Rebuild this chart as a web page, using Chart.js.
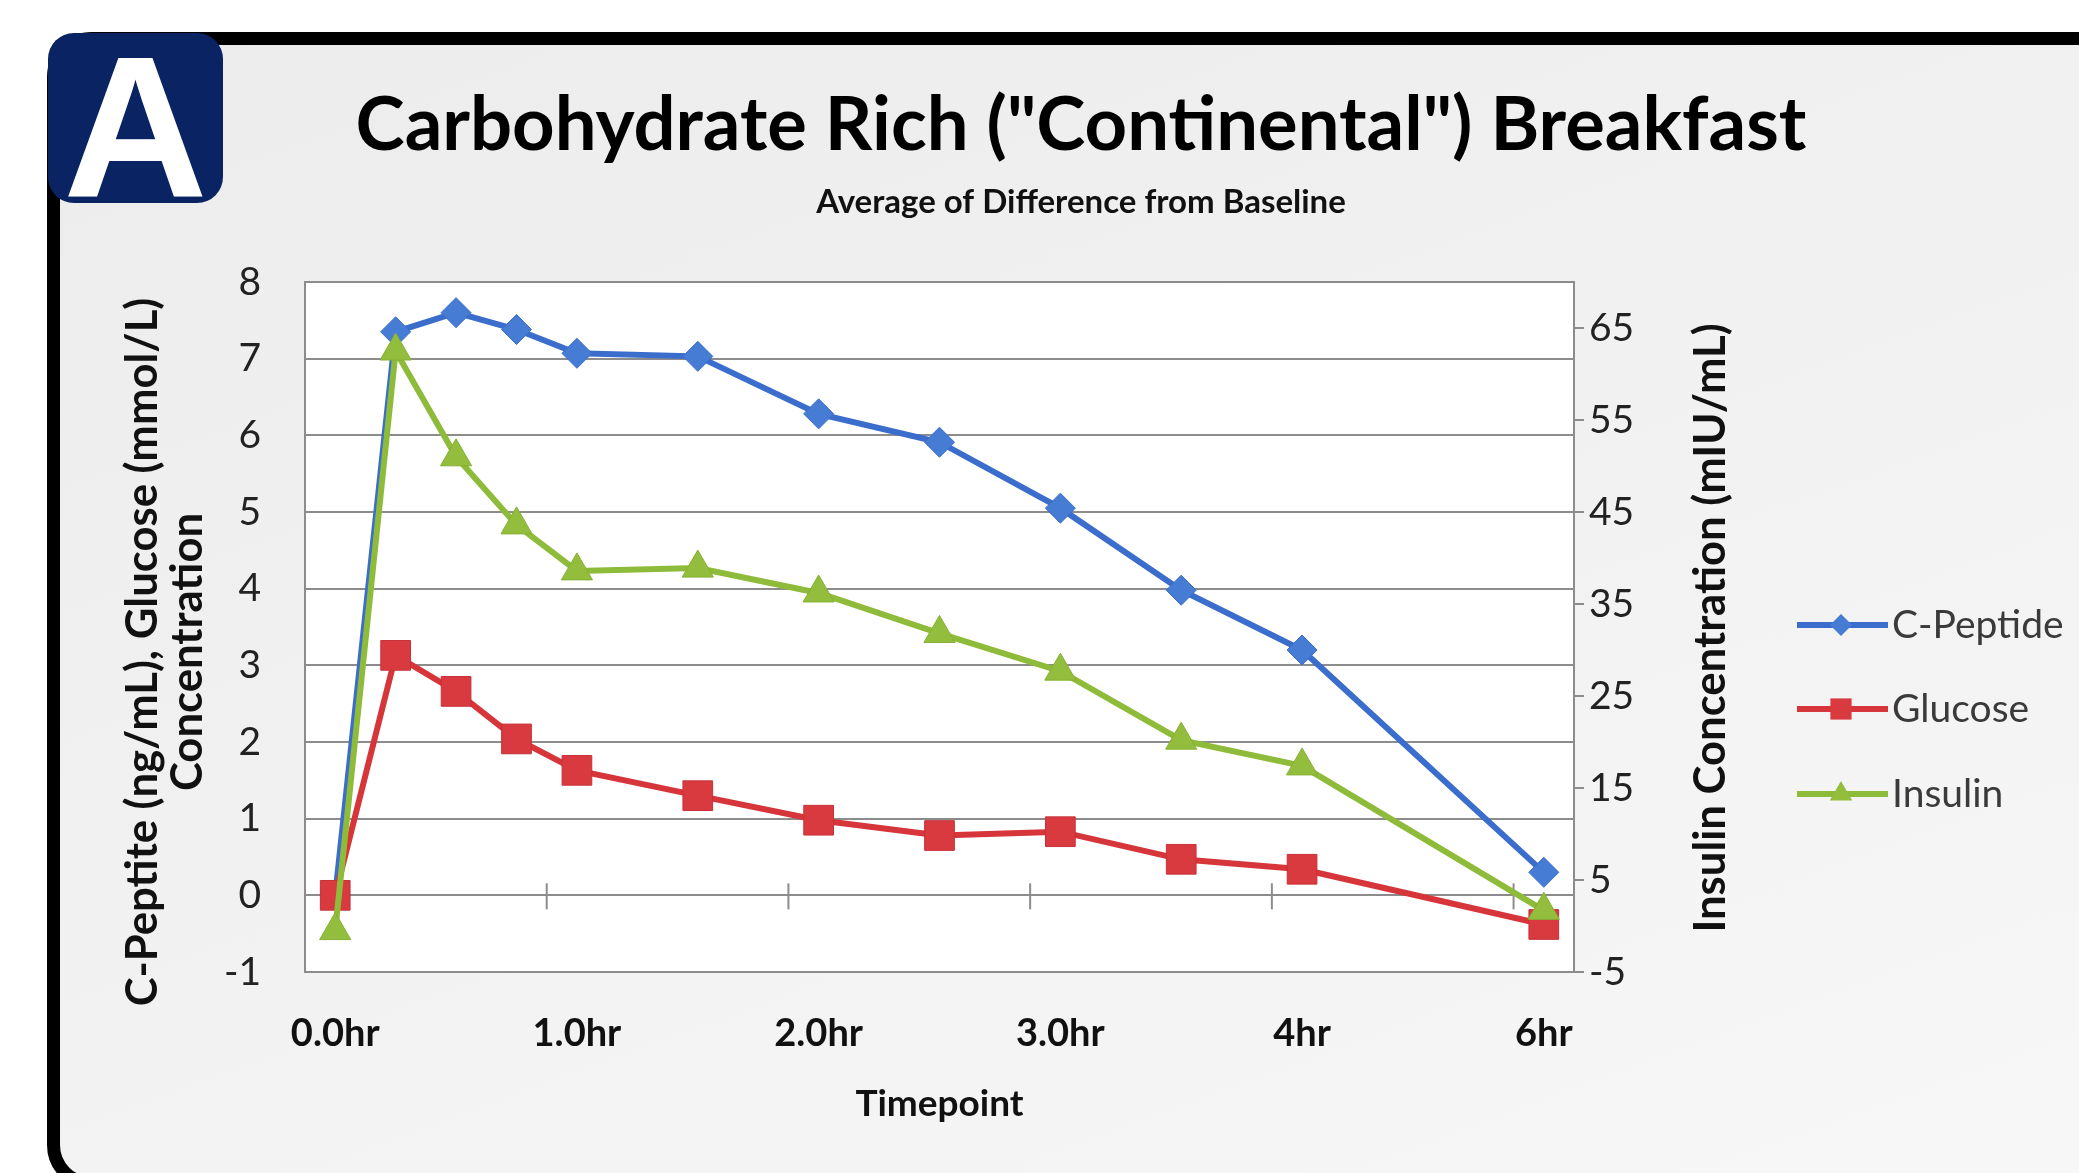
<!DOCTYPE html>
<html>
<head>
<meta charset="utf-8">
<script src="https://cdn.jsdelivr.net/npm/chart.js@4.4.1/dist/chart.umd.min.js"></script>
<style>
  html, body { margin: 0; padding: 0; background: #fff; overflow: hidden; }
  body { width: 2079px; height: 1173px; position: relative; }
  #frame {
    position: absolute; left: 47px; top: 32px; width: 2080px; height: 1158px;
    box-sizing: border-box; border: 13px solid #000; border-radius: 45px;
    background: linear-gradient(160deg, #ececec 0%, #f2f2f2 55%, #f7f7f7 100%);
  }
  #badge {
    position: absolute; left: 48px; top: 33px; width: 175px; height: 170px;
    background: #0a2463; border-radius: 26px; overflow: hidden;
  }
  #badge span {
    position: absolute; left: 0; width: 100%; top: -6px; text-align: center;
    font: bold 200px/1 "Liberation Sans", Arial, sans-serif; color: #fff;
  }
  #wrap { position: absolute; left: 100px; top: 0; width: 1979px; height: 1173px; }
</style>
</head>
<body>
<div id="frame"></div>
<div id="badge"><span>A</span></div>
<div id="wrap"><canvas id="chart"></canvas></div>

<script>
// ---------------- data ----------------
// sampling times (hours); the 6hr sample sits one slot after 4hr, as in the original sheet
const timeSlots = [0, 0.25, 0.5, 0.75, 1, 1.5, 2, 2.5, 3, 3.5, 4, 5];
const labelSlots = [0, 1, 2, 3, 4, 5];
const timeLabels = ["0.0hr", "1.0hr", "2.0hr", "3.0hr", "4hr", "6hr"];
const zeroTickSlots = [0.875, 1.875, 2.875, 3.875, 4.875];

const cPeptide = [0, 7.35, 7.6, 7.38, 7.07, 7.03, 6.28, 5.91, 5.05, 3.98, 3.2, 0.3];
const glucose = [0, 3.13, 2.66, 2.04, 1.63, 1.3, 0.98, 0.78, 0.83, 0.47, 0.34, -0.38];
const insulin = [-0.5, 62.5, 51.0, 43.6, 38.6, 38.9, 36.2, 31.8, 27.7, 20.2, 17.4, 1.7];

const leftTicks = [-1, 0, 1, 2, 3, 4, 5, 6, 7, 8];
const rightTicks = [-5, 5, 15, 25, 35, 45, 55, 65];

const titleText = 'Carbohydrate Rich ("Continental") Breakfast';
const subtitleText = "Average of Difference from Baseline";
const leftTitle = ["C-Peptite (ng/mL), Glucose (mmol/L)", "Concentration"];
const rightTitle = "Insulin Concentration (mIU/mL)";

// ---------------- helpers ----------------
const FONT = 'Lato, "Open Sans", sans-serif';
const GRID = "#8c8c8c";

function fitSize(text, weight, width) {
  const ctx = document.createElement("canvas").getContext("2d");
  ctx.font = weight + " 100px " + FONT;
  return (100 * width) / ctx.measureText(text).width;
}

const titleSize = fitSize(titleText, "bold", 1451);
const subSize = fitSize(subtitleText, "bold", 530);
const axisTitleSize = fitSize(leftTitle[0], "bold", 709);

function points(values) {
  return timeSlots.map((t, i) => ({ x: t, y: values[i] }));
}

function drawMarker(ctx, style, x, y, r) {
  ctx.beginPath();
  if (style === "rectRot") {
    ctx.moveTo(x - r, y);
    ctx.lineTo(x, y - r);
    ctx.lineTo(x + r, y);
    ctx.lineTo(x, y + r);
  } else if (style === "rect") {
    const s = r * Math.SQRT1_2;
    ctx.rect(x - s, y - s, 2 * s, 2 * s);
  } else {
    ctx.moveTo(x, y - r);
    ctx.lineTo(x + r * 0.866, y + r * 0.5);
    ctx.lineTo(x - r * 0.866, y + r * 0.5);
  }
  ctx.closePath();
  ctx.fill();
}

function rotatedText(ctx, lines, x, y, gap) {
  ctx.save();
  ctx.translate(x, y);
  ctx.rotate(-Math.PI / 2);
  ctx.fillStyle = "#111";
  ctx.font = "bold " + axisTitleSize + "px " + FONT;
  ctx.textAlign = "center";
  ctx.textBaseline = "middle";
  lines.forEach((t, i) => ctx.fillText(t, 0, i * gap));
  ctx.restore();
}

// white plot area
const plotBackground = {
  id: "plotBackground",
  beforeDraw(chart) {
    const { ctx, chartArea: a } = chart;
    ctx.save();
    ctx.fillStyle = "#ffffff";
    ctx.fillRect(a.left, a.top, a.right - a.left, a.bottom - a.top);
    ctx.restore();
  },
};

// little tick marks on the zero line, like the original horizontal axis
const zeroTicks = {
  id: "zeroTicks",
  beforeDatasetsDraw(chart) {
    const { ctx, scales } = chart;
    const y0 = scales.y.getPixelForValue(0);
    ctx.save();
    ctx.strokeStyle = GRID;
    ctx.lineWidth = 2;
    zeroTickSlots.forEach((v) => {
      const x = scales.x.getPixelForValue(v);
      ctx.beginPath();
      ctx.moveTo(x, y0 - 12);
      ctx.lineTo(x, y0 + 14);
      ctx.stroke();
    });
    ctx.restore();
  },
};

// axis titles, both reading bottom-to-top as in Excel
const axisTitles = {
  id: "axisTitles",
  afterDraw(chart) {
    const ctx = chart.ctx;
    rotatedText(ctx, leftTitle, 43, 652, 45);
    rotatedText(ctx, [rightTitle], 1611, 628, 0);
  },
};

// legend with line + marker, Excel style
const lineLegend = {
  id: "lineLegend",
  afterDraw(chart) {
    const ctx = chart.ctx;
    const rows = [625, 709, 794];
    const sizes = [11, 15, 13];
    ctx.save();
    chart.data.datasets.forEach((ds, i) => {
      const y = rows[i];
      ctx.strokeStyle = ds.borderColor;
      ctx.lineWidth = 6;
      ctx.beginPath();
      ctx.moveTo(1697, y);
      ctx.lineTo(1788, y);
      ctx.stroke();
      ctx.fillStyle = ds.pointBackgroundColor;
      drawMarker(ctx, ds.pointStyle, 1741, y, sizes[i]);
      ctx.fillStyle = "#3a3a3a";
      ctx.font = "39px " + FONT;
      ctx.textBaseline = "middle";
      ctx.fillText(ds.label, 1792, y);
    });
    ctx.restore();
  },
};

// ---------------- chart ----------------
new Chart(document.getElementById("chart"), {
  type: "line",
  data: {
    datasets: [
      {
        label: "C-Peptide",
        data: points(cPeptide),
        yAxisID: "y",
        borderColor: "#3b6dcc",
        borderWidth: 6,
        pointStyle: "rectRot",
        pointRadius: 15,
        pointBackgroundColor: "#477cd5",
        pointBorderColor: "#3b6dcc",
        pointBorderWidth: 1,
        order: 2,
      },
      {
        label: "Glucose",
        data: points(glucose),
        yAxisID: "y",
        borderColor: "#d6353a",
        borderWidth: 6,
        pointStyle: "rect",
        pointRadius: 21,
        pointBackgroundColor: "#d93a40",
        pointBorderColor: "#c83036",
        pointBorderWidth: 1,
        order: 1,
      },
      {
        label: "Insulin",
        data: points(insulin),
        yAxisID: "y2",
        borderColor: "#8fbb3a",
        borderWidth: 6,
        pointStyle: "triangle",
        pointRadius: 18,
        pointBackgroundColor: "#93bd3c",
        pointBorderColor: "#86b034",
        pointBorderWidth: 1,
        order: 0,
      },
    ],
  },
  options: {
    responsive: true,
    maintainAspectRatio: false,
    animation: false,
    clip: false,
    layout: { padding: { left: 0, right: 17, top: 0, bottom: 46.5 } },
    elements: { line: { tension: 0 } },
    plugins: {
      legend: { display: false },
      tooltip: { enabled: false },
      title: {
        display: true,
        text: titleText,
        color: "#000",
        font: { family: FONT, weight: "bold", size: titleSize, lineHeight: 1 },
        padding: { top: 126 - titleSize / 2, bottom: 0 },
      },
      subtitle: {
        display: true,
        text: subtitleText,
        color: "#111",
        font: { family: FONT, weight: "bold", size: subSize, lineHeight: 1 },
        padding: {
          top: 202 - subSize / 2 - (126 + titleSize / 2),
          bottom: 282 - (202 + subSize / 2),
        },
      },
    },
    scales: {
      x: {
        type: "linear",
        min: -0.125,
        max: 5.125,
        afterBuildTicks: (s) => {
          s.ticks = labelSlots.map((v) => ({ value: v }));
        },
        afterFit: (s) => {
          s.height = 154.5;
        },
        ticks: {
          callback: (v, i) => timeLabels[i],
          autoSkip: false,
          maxRotation: 0,
          padding: 39,
          color: "#111",
          font: { family: FONT, weight: "bold", size: 38 },
        },
        grid: { display: false, drawTicks: false },
        border: { display: true, color: GRID, width: 2 },
        title: {
          display: true,
          text: "Timepoint",
          color: "#111",
          font: { family: FONT, weight: "bold", size: 37, lineHeight: 1.2 },
          padding: { top: 0, bottom: 0 },
        },
      },
      y: {
        position: "left",
        min: -1,
        max: 8,
        afterBuildTicks: (s) => {
          s.ticks = leftTicks.map((v) => ({ value: v }));
        },
        afterFit: (s) => {
          s.width = 205;
        },
        ticks: {
          padding: 44,
          color: "#222",
          font: { family: FONT, size: 39 },
        },
        grid: { color: GRID, lineWidth: 2, drawTicks: false },
        border: { display: true, color: GRID, width: 2 },
        title: { display: false },
      },
      y2: {
        position: "right",
        min: -5,
        max: 70,
        afterBuildTicks: (s) => {
          s.ticks = rightTicks.map((v) => ({ value: v }));
        },
        afterFit: (s) => {
          s.width = 488;
        },
        ticks: {
          padding: 5,
          color: "#222",
          font: { family: FONT, size: 39 },
        },
        grid: { drawOnChartArea: false, color: GRID, lineWidth: 2, tickLength: 10 },
        border: { display: true, color: GRID, width: 2 },
        title: { display: false },
      },
    },
  },
  plugins: [plotBackground, zeroTicks, axisTitles, lineLegend],
});
</script>
</body>
</html>
